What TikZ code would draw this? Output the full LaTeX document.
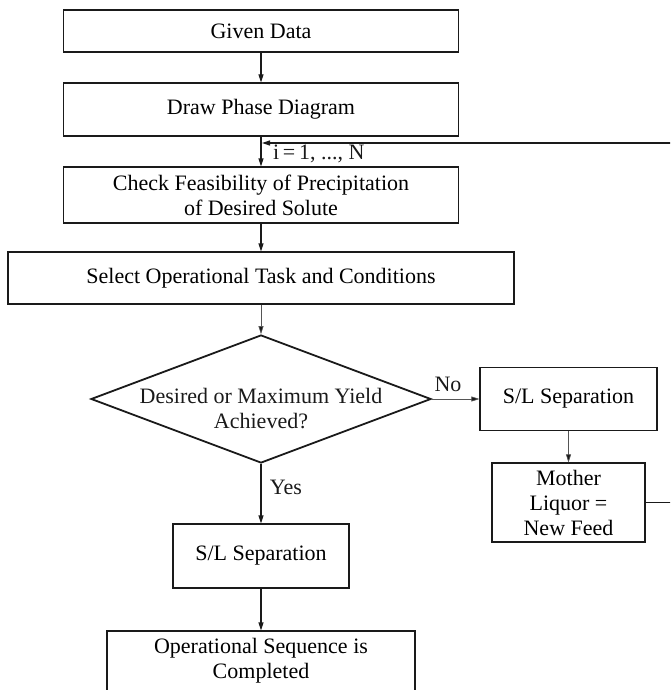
\documentclass[tikz,border=0pt]{standalone}
\usepackage{fontspec}
\setmainfont{Liberation Serif}
\usepackage{xcolor}
\usepackage{tikz}
\usetikzlibrary{shapes.geometric,arrows.meta,calc}
\definecolor{ink}{HTML}{1A1A1A}
\definecolor{soft}{HTML}{555555}
\tikzset{
  box/.style={draw=ink, line width=1.2pt, align=center, inner sep=0pt, font=\fontsize{22}{25}\selectfont},
  decide/.style={draw=ink, diamond, line width=1.8pt, inner sep=0pt},
  flow/.style={draw=ink, line width=1.2pt, -{Triangle[length=8pt,width=5pt]}},
  flowthin/.style={draw=soft, line width=0.6pt, -{Triangle[length=8pt,width=5pt,fill=ink]}},
  lab/.style={text=ink, inner sep=0pt, align=center, font=\fontsize{22}{25}\selectfont},
}

\begin{document}
\begin{tikzpicture}[x=1pt,y=-1pt]
  \useasboundingbox (0,0) rectangle (670,690);
  \clip (0,0) rectangle (670,690);
  % main column
  \node[box, minimum width=395pt, minimum height=42pt] (given) at (261,31) {Given Data};
  \node[box, minimum width=395pt, minimum height=53pt] (phase) at (261,109.5) {Draw Phase Diagram};
  \node[box, minimum width=395pt, minimum height=56pt] (check) at (261,195) {Check Feasibility of Precipitation\\of Desired Solute};
  \node[box, minimum width=506pt, minimum height=52pt] (select) at (261,278) {Select Operational Task and Conditions};
  \node[decide, minimum width=340pt, minimum height=128pt] (yield) at (261,399) {};
  \node[lab] (yieldtxt) at (261,409) {Desired or Maximum Yield\\Achieved?};
  \node[box, minimum width=176pt, minimum height=64pt] (sl) at (261,556) {S/L Separation};
  \node[box, minimum width=308pt, minimum height=60pt] (done) at (261,661) {Operational Sequence is\\Completed};
  % side branch
  \node[box, minimum width=177pt, minimum height=63pt] (slr) at (568.5,399) {S/L Separation};
  \node[box, minimum width=153pt, minimum height=79pt] (mother) at (568.5,502.5) {Mother\\Liquor =\\New Feed};
  % labels
  \node[lab] (no) at (448,384) {No};
  \node[lab] (yes) at (286,487) {Yes};
  \node[lab, anchor=base west] (iter) at (273,159) {i\,=\,1, ..., N};
  \coordinate (loop) at (262,143);
  % connectors
  \draw[flow] (given) -- (phase);
  \draw[flow] (phase) -- (check);
  \draw[flow] (check) -- (select);
  \draw[flowthin] (select) -- (yield);
  \draw[flow] (yield) -- (sl);
  \draw[flow] (sl) -- (done);
  \draw[flowthin] (yield.east) -- (slr.west);
  \draw[flowthin] (slr) -- (mother);
  \draw[flow] (mother.east) -- ++(30,0) |- (loop);
\end{tikzpicture}
\end{document}
